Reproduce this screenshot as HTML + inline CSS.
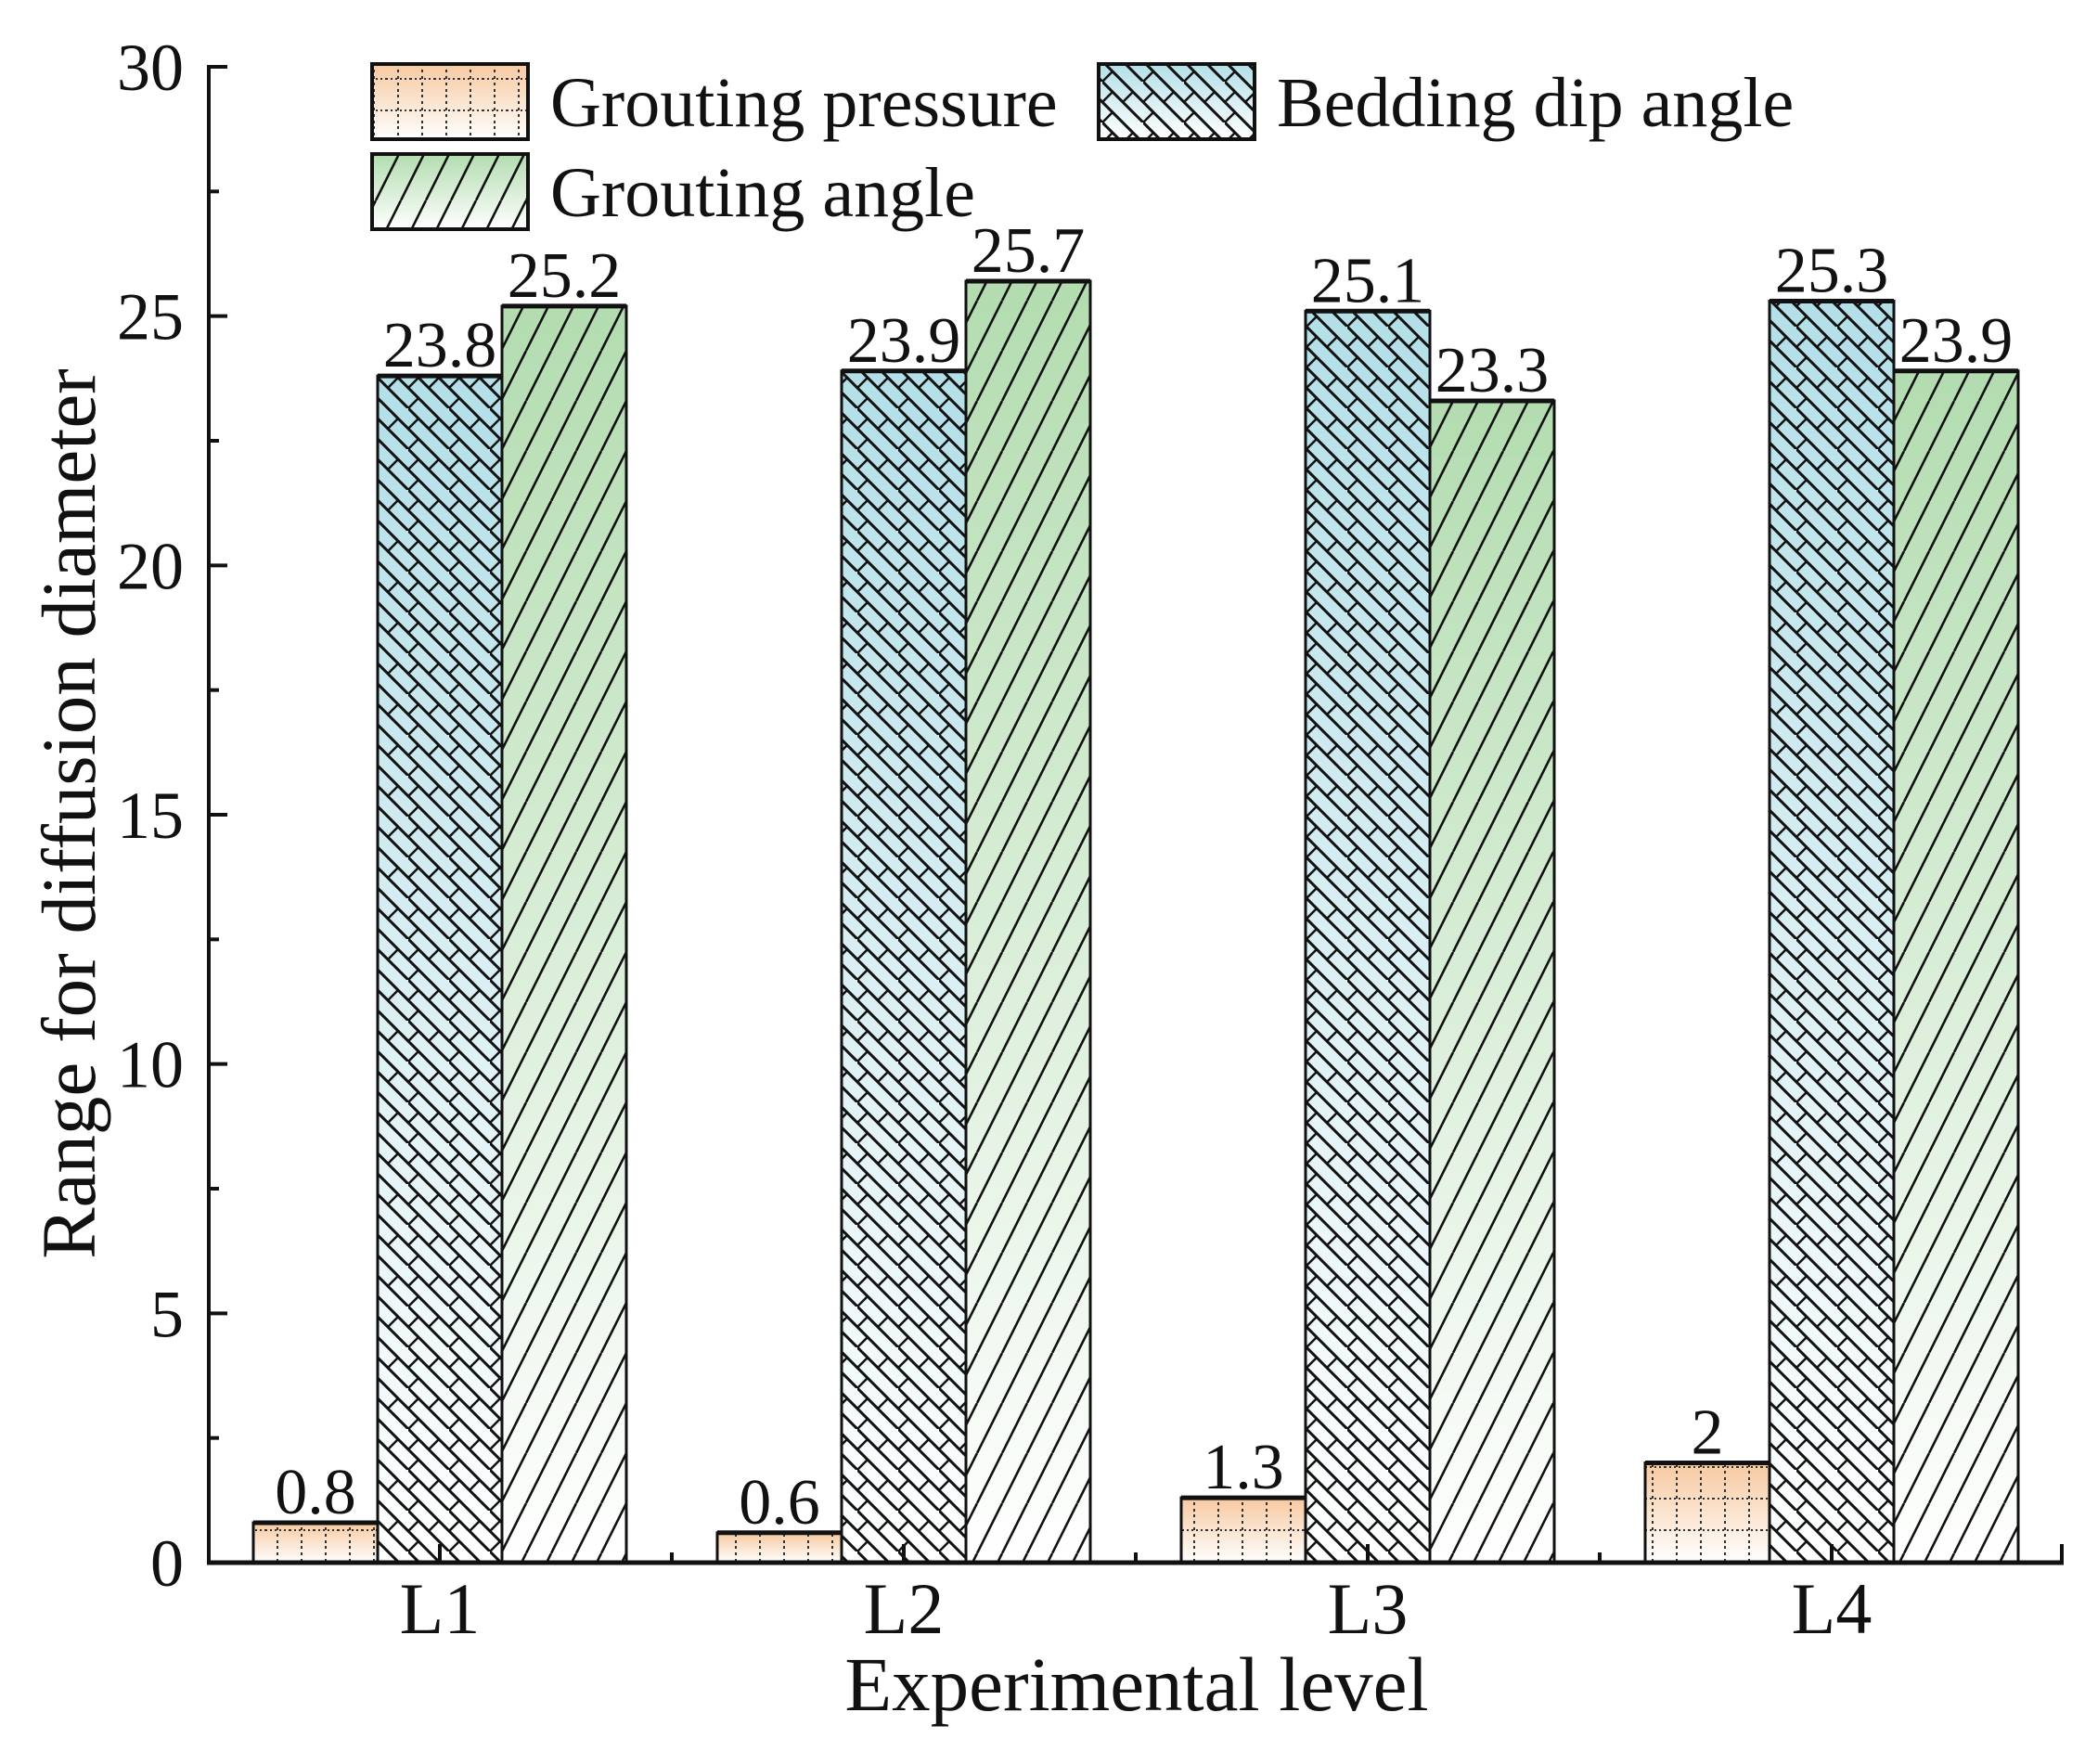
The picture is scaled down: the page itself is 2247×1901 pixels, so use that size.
<!DOCTYPE html>
<html><head><meta charset="utf-8"><style>
html,body{margin:0;padding:0;background:#fff}
svg{display:block}
text{font-family:"Liberation Serif",serif;fill:#111}
</style></head><body>
<svg id="chart" width="2247" height="1901" viewBox="0 0 2247 1901" xmlns="http://www.w3.org/2000/svg">
<defs>
<linearGradient id="gP" x1="0" y1="0" x2="0" y2="1"><stop offset="0" stop-color="#f7c9a0"/><stop offset="1" stop-color="#ffffff"/></linearGradient>
<linearGradient id="gB" x1="0" y1="0" x2="0" y2="1"><stop offset="0" stop-color="#b3dfe8"/><stop offset="1" stop-color="#ffffff"/></linearGradient>
<linearGradient id="gA" x1="0" y1="0" x2="0" y2="1"><stop offset="0" stop-color="#b3dcb0"/><stop offset="1" stop-color="#ffffff"/></linearGradient>
<pattern id="pP" patternUnits="userSpaceOnUse" width="26" height="34">
<line x1="13" y1="0" x2="13" y2="34" stroke="#333" stroke-width="2" stroke-dasharray="3,4"/>
<line x1="0" y1="17" x2="26" y2="17" stroke="#333" stroke-width="2" stroke-dasharray="2,3"/>
</pattern>
<pattern id="pB" patternUnits="userSpaceOnUse" width="44" height="44">
<path d="M-11,-11 L55,55 M-11,11 L33,55 M11,-11 L55,33" stroke="#111" stroke-width="3" fill="none"/>
<path d="M0,44 L44,0 M-22,44 L22,0" stroke="#111" stroke-width="2.5" fill="none" stroke-dasharray="15,16"/>
</pattern>
<pattern id="pA" patternUnits="userSpaceOnUse" width="27" height="54">
<path d="M0,54 L27,0 M-13.5,27 L0,0 M27,54 L40.5,27" stroke="#111" stroke-width="2.6" fill="none"/>
</pattern>
</defs>
<g id="plot"></g>
</svg>
<script>
const categories=["L1","L2","L3","L4"];
const seriesNames=["Grouting pressure","Bedding dip angle","Grouting angle"];
const pressure=[0.8,0.6,1.3,2];
const bedding=[23.8,23.9,25.1,25.3];
const angle=[25.2,25.7,23.3,23.9];
const yTicks=[0,5,10,15,20,25,30];
const valueLabels=[["0.8","0.6","1.3","2"],["23.8","23.9","25.1","25.3"],["25.2","25.7","23.3","23.9"]];

const NS="http://www.w3.org/2000/svg";
const g=document.getElementById('plot');
const X0=225,X1=2224,Y0=1684,Y30=72;
const y=v=>Y0-(v-0)*(Y0-Y30)/30;
const groupC=i=>474+i*500;
const barW=134;
function mk(t,a,p){const e=document.createElementNS(NS,t);for(const k in a)e.setAttribute(k,a[k]);(p||g).appendChild(e);return e;}
const fills=[["url(#gP)","url(#pP)"],["url(#gB)","url(#pB)"],["url(#gA)","url(#pA)"]];
const series=[pressure,bedding,angle];
series.forEach((s,si)=>{
  s.forEach((v,i)=>{
    const x=groupC(i)+(si-1.5)*barW;
    const bg=mk('g',{});
    
    
    mk('rect',{x:x,y:y(v),width:barW,height:Y0-y(v),fill:fills[si][0]},bg);
    mk('rect',{x:x,y:y(v),width:barW,height:Y0-y(v),fill:fills[si][1]},bg);
    mk('rect',{x:x,y:y(v),width:barW,height:Y0-y(v),fill:"none",stroke:"#111","stroke-width":3},bg);
    mk('line',{x1:x,x2:x+barW,y1:y(v),y2:y(v),stroke:"#111","stroke-width":5},bg);
    const t=mk('text',{x:x+barW/2,y:y(v)-10,"text-anchor":"middle","font-size":70});
    
    
    t.textContent=valueLabels[si][i];
  });
});
const ya=mk('line',{x1:X0,x2:X0,y1:Y30-2,y2:Y0+2,stroke:"#111","stroke-width":4});

const xa=mk('line',{x1:X0-2,x2:X1,y1:Y0,y2:Y0,stroke:"#111","stroke-width":5});

yTicks.forEach(v=>{
  mk('line',{x1:X0,x2:X0+20,y1:y(v),y2:y(v),stroke:"#111","stroke-width":4});
  if(v<30) mk('line',{x1:X0,x2:X0+11,y1:y(v+2.5),y2:y(v+2.5),stroke:"#111","stroke-width":4});
  const t=mk('text',{x:198,y:y(v)+25,"text-anchor":"end","font-size":72});
  
  
  t.textContent=v;
});
categories.forEach((c,i)=>{
  mk('line',{x1:groupC(i),x2:groupC(i),y1:Y0,y2:Y0-20,stroke:"#111","stroke-width":4});
  if(i<3) mk('line',{x1:groupC(i)+250,x2:groupC(i)+250,y1:Y0,y2:Y0-11,stroke:"#111","stroke-width":4});
  const t=mk('text',{x:groupC(i),y:1760,"text-anchor":"middle","font-size":78});
  
  
  t.textContent=c;
});
mk('line',{x1:X1-2,x2:X1-2,y1:Y0,y2:Y0-20,stroke:"#111","stroke-width":4});
const xt=mk('text',{x:1225,y:1843,"text-anchor":"middle","font-size":83});

xt.textContent="Experimental level";
const yt=mk('text',{x:0,y:0,"text-anchor":"middle","font-size":83,transform:"translate(102,877) rotate(-90)"});

yt.textContent="Range for diffusion diameter";
const leg=[[401,69,0],[1184,69,1],[401,166,2]];
leg.forEach(([lx,ly,si])=>{
  const lg=mk('g',{});
  
  
  mk('rect',{x:lx,y:ly,width:168,height:81,fill:fills[si][0]},lg);
  mk('rect',{x:lx,y:ly,width:168,height:81,fill:fills[si][1]},lg);
  mk('rect',{x:lx,y:ly,width:168,height:81,fill:"none",stroke:"#111","stroke-width":4},lg);
  const t=mk('text',{x:lx+192,y:ly+67,"font-size":76},lg);
  t.textContent=seriesNames[si];
});
</script>
</body></html>
